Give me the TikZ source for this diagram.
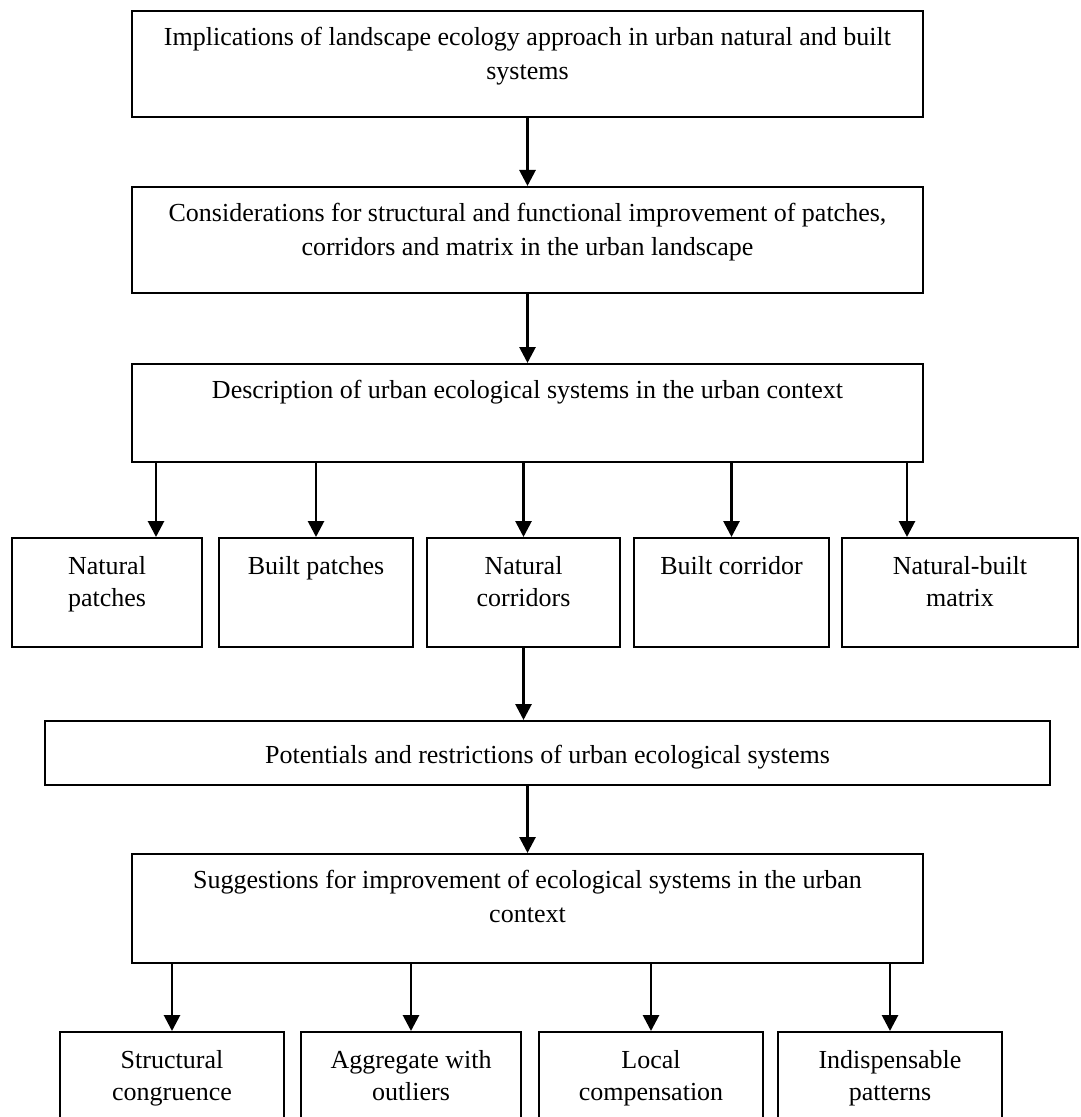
\documentclass[tikz,border=0pt]{standalone}
\usepackage{fontspec}
\setmainfont{Liberation Serif}
\usetikzlibrary{arrows.meta}

\tikzset{
  box/.style={draw, line width=1pt, inner sep=0pt},
  txt/.style={anchor=north, inner sep=0pt, align=center, font=\fontsize{13}{17}\selectfont},
  toptxt/.style={txt, yshift=-8pt},
  rowtxt/.style={txt, yshift=-9pt, font=\fontsize{13}{16}\selectfont},
}

\begin{document}
\begin{tikzpicture}[x=0.5pt, y=-0.5pt, line width=1.4pt, >={Triangle[length=8pt,width=8pt]}]
\useasboundingbox (0,0) rectangle (1080,1117);
\clip (0,0) rectangle (1080,1117);

\node[box, minimum width=395.5pt, minimum height=53pt,
  label={[toptxt]north:{Implications of landscape ecology approach in urban natural and built\\systems}}]
  (impl) at (527.5, 64) {};
\node[box, minimum width=395.5pt, minimum height=53pt,
  label={[toptxt]north:{Considerations for structural and functional improvement of patches,\\corridors and matrix in the urban landscape}}]
  (consid) at (527.5, 240) {};
\node[box, minimum width=395.5pt, minimum height=49pt,
  label={[toptxt]north:{Description of urban ecological systems in the urban context}}]
  (descr) at (527.5, 413) {};

\node[box, minimum width=95pt,   minimum height=54.5pt, label={[rowtxt]north:{Natural\\patches}}]       (np)  at (107, 592.5)   {};
\node[box, minimum width=97pt,   minimum height=54.5pt, label={[rowtxt]north:{Built patches}}]          (bp)  at (316, 592.5)   {};
\node[box, minimum width=96.5pt, minimum height=54.5pt, label={[rowtxt]north:{Natural\\corridors}}]     (nc)  at (523.5, 592.5) {};
\node[box, minimum width=97.5pt, minimum height=54.5pt, label={[rowtxt]north:{Built corridor}}]         (bc)  at (731.5, 592.5) {};
\node[box, minimum width=118pt,  minimum height=54.5pt, label={[rowtxt]north:{Natural-built\\matrix}}]  (nbm) at (960, 592.5)   {};

\node[box, minimum width=502.5pt, minimum height=32pt,
  label={[txt, anchor=center, yshift=-2pt]center:{Potentials and restrictions of urban ecological systems}}]
  (pot) at (547.5, 753) {};

\node[box, minimum width=395.5pt, minimum height=54.5pt,
  label={[toptxt]north:{Suggestions for improvement of ecological systems in the urban\\context}}]
  (sugg) at (527.5, 908.5) {};

\node[box, minimum width=112pt, minimum height=59pt, label={[rowtxt]north:{Structural\\congruence}}]     (sc) at (172, 1091) {};
\node[box, minimum width=110pt, minimum height=59pt, label={[rowtxt]north:{Aggregate with\\outliers}}]   (ag) at (411, 1091) {};
\node[box, minimum width=112pt, minimum height=59pt, label={[rowtxt]north:{Local\\compensation}}]        (lc) at (651, 1091) {};
\node[box, minimum width=112pt, minimum height=59pt, label={[rowtxt]north:{Indispensable\\patterns}}]    (ip) at (890, 1091) {};

\coordinate (npin)  at ([xshift=24.5pt]np.north);
\coordinate (nbmin) at ([xshift=-26.5pt]nbm.north);

\path[->]
(impl)   edge (consid)
(consid) edge (descr)
(descr.south -| npin)     edge (npin)
(descr.south -| bp.north) edge (bp)
(descr.south -| nc.north) edge (nc)
(descr.south -| bc.north) edge (bc)
(descr.south -| nbmin)    edge (nbmin)
(nc.south) edge (nc.south |- pot.north)
(pot.south -| sugg.north) edge (sugg)
(sugg.south -| sc.north) edge (sc)
(sugg.south -| ag.north) edge (ag)
(sugg.south -| lc.north) edge (lc)
(sugg.south -| ip.north) edge (ip)
;
\end{tikzpicture}
\end{document}
